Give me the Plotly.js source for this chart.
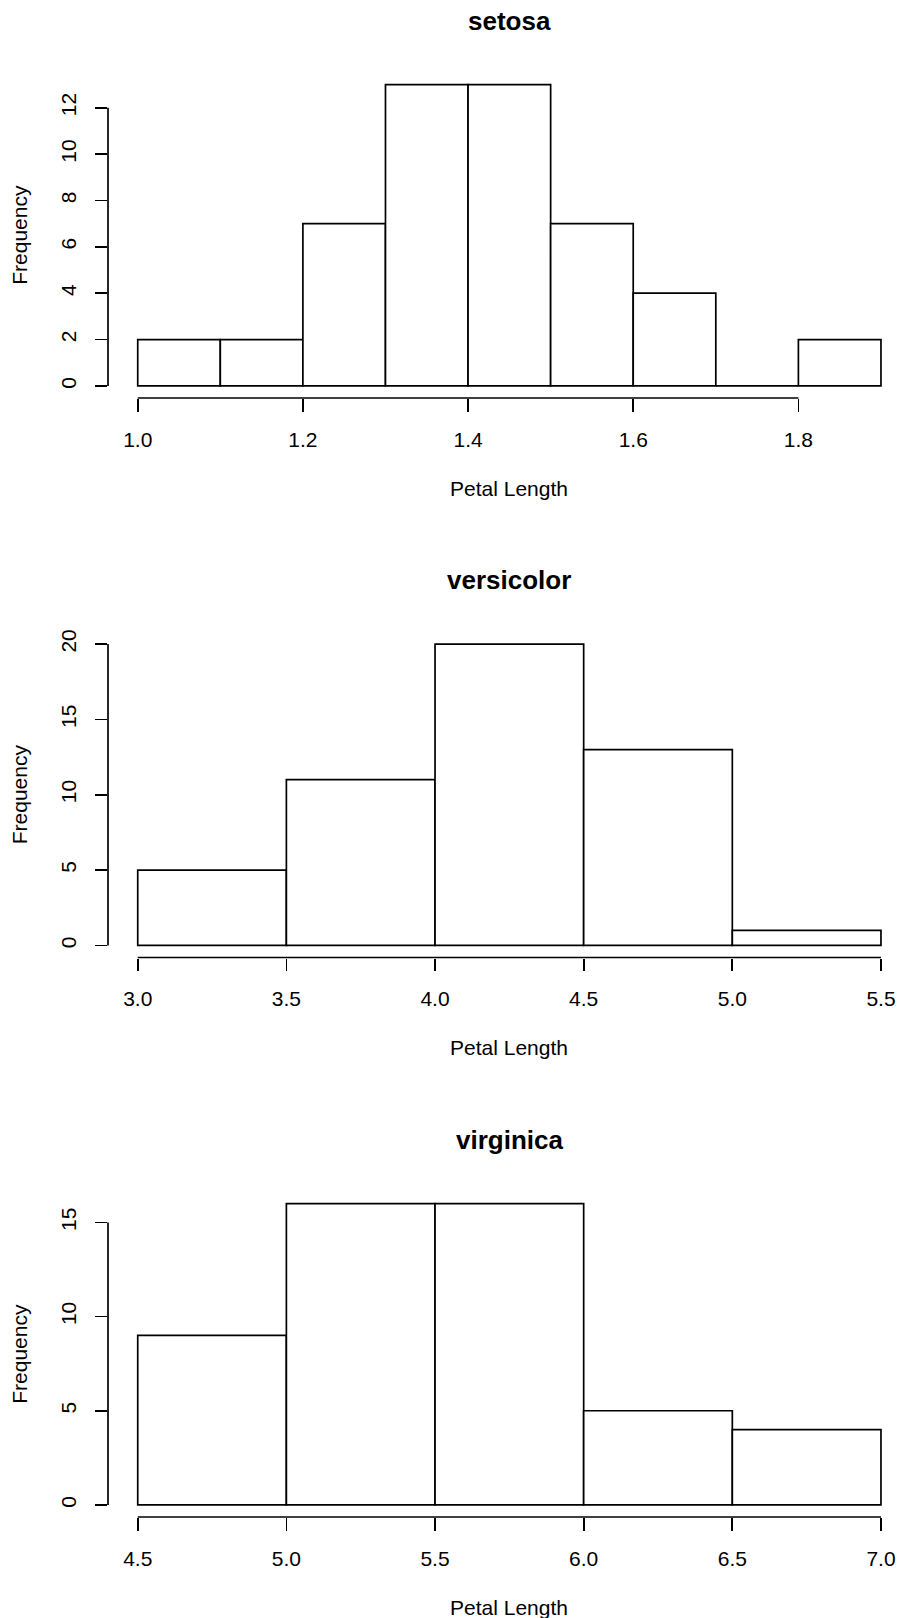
<!DOCTYPE html>
<html>
<head>
<meta charset="utf-8">
<script src="https://cdn.plot.ly/plotly-3.0.1.min.js"></script>
<style>html,body{margin:0;padding:0;background:#fff;}#chart{width:898px;height:1618px;}</style>
</head>
<body>
<div id="chart"></div>
<script>
// ---- data (iris petal length histograms) ----
const speciesNames = ["setosa", "versicolor", "virginica"];
const setosaBreaks = [1.0, 1.1, 1.2, 1.3, 1.4, 1.5, 1.6, 1.7, 1.8, 1.9];
const setosaCounts = [2, 2, 7, 13, 13, 7, 4, 0, 2];
const versicolorBreaks = [3.0, 3.5, 4.0, 4.5, 5.0, 5.5];
const versicolorCounts = [5, 11, 20, 13, 1];
const virginicaBreaks = [4.5, 5.0, 5.5, 6.0, 6.5, 7.0];
const virginicaCounts = [9, 16, 16, 5, 4];

const setosaXTicks = [1.0, 1.2, 1.4, 1.6, 1.8];
const setosaXTickText = ["1.0", "1.2", "1.4", "1.6", "1.8"];
const versicolorXTicks = [3.0, 3.5, 4.0, 4.5, 5.0, 5.5];
const versicolorXTickText = ["3.0", "3.5", "4.0", "4.5", "5.0", "5.5"];
const virginicaXTicks = [4.5, 5.0, 5.5, 6.0, 6.5, 7.0];
const virginicaXTickText = ["4.5", "5.0", "5.5", "6.0", "6.5", "7.0"];

const setosaYTicks = [0, 2, 4, 6, 8, 10, 12];
const versicolorYTicks = [0, 5, 10, 15, 20];
const virginicaYTicks = [0, 5, 10, 15];

const xLabel = "Petal Length";
const yLabel = "Frequency";

// ---- layout geometry ----
const W = 898, H = 1618;
const marginL = 108;
const plotRightR = 910.7;          // where R's plot region would end
const panelTops = [72.5, 632, 1191.5];
const panelH = 325.5;
const FONT = "Liberation Sans, Arial, Helvetica, sans-serif";
const LW = 1.7;

const panels = [
  {breaks: setosaBreaks, counts: setosaCounts, xt: setosaXTicks, xtt: setosaXTickText, yt: setosaYTicks},
  {breaks: versicolorBreaks, counts: versicolorCounts, xt: versicolorXTicks, xtt: versicolorXTickText, yt: versicolorYTicks},
  {breaks: virginicaBreaks, counts: virginicaCounts, xt: virginicaXTicks, xtt: virginicaXTickText, yt: virginicaYTicks}
];

const visFrac = (W - marginL) / (plotRightR - marginL);

const traces = [];
const layout = {
  width: W, height: H,
  margin: {l: marginL, r: 0, t: 0, b: 0, pad: 0},
  paper_bgcolor: "#fff", plot_bgcolor: "#fff",
  showlegend: false, bargap: 0,
  font: {family: FONT, size: 21, color: "#000"},
  shapes: [], annotations: []
};

panels.forEach((p, i) => {
  const n = i === 0 ? "" : String(i + 1);
  const xr = "x" + n, yr = "y" + n;
  const lo = p.breaks[0], hi = p.breaks[p.breaks.length - 1];
  const span = hi - lo;
  const Rlo = lo - 0.04 * span, Rhi = hi + 0.04 * span;
  const ymax = Math.max(...p.counts);
  const mids = [], widths = [];
  for (let k = 0; k < p.counts.length; k++) {
    mids.push((p.breaks[k] + p.breaks[k + 1]) / 2);
    widths.push(p.breaks[k + 1] - p.breaks[k]);
  }
  traces.push({
    type: "bar", x: mids, y: p.counts, width: widths,
    xaxis: xr, yaxis: yr,
    marker: {color: "#ffffff", line: {color: "#000", width: LW}},
    hoverinfo: "x+y"
  });
  const top = panelTops[i];
  const common = {
    showgrid: false, zeroline: false, showline: false,
    ticks: "outside", ticklen: 12.5, tickwidth: LW, tickcolor: "#000",
    tickfont: {family: FONT, size: 21, color: "#000"},
    tickmode: "array", fixedrange: true
  };
  layout["xaxis" + n] = Object.assign({}, common, {
    anchor: yr, domain: [0, 1],
    range: [Rlo, Rlo + (Rhi - Rlo) * visFrac],
    tickvals: p.xt, ticktext: p.xtt, ticklabelstandoff: 10
  });
  layout["yaxis" + n] = Object.assign({}, common, {
    anchor: xr,
    domain: [1 - (top + panelH) / H, 1 - top / H],
    range: [-0.04 * ymax, 1.04 * ymax],
    tickvals: p.yt, ticktext: p.yt.map(String), tickangle: -90, ticklabelstandoff: 10
  });
  // R-style axis lines spanning first to last tick
  layout.shapes.push({type: "line", xref: xr, yref: yr + " domain",
    x0: p.xt[0], x1: p.xt[p.xt.length - 1], y0: 0, y1: 0,
    line: {color: "#000", width: LW}});
  layout.shapes.push({type: "line", xref: xr + " domain", yref: yr,
    x0: 0, x1: 0, y0: p.yt[0], y1: p.yt[p.yt.length - 1],
    line: {color: "#000", width: LW}});
  const cx = (lo + hi) / 2;
  layout.annotations.push({text: "<b>" + speciesNames[i] + "</b>", xref: xr, yref: yr + " domain",
    x: cx, y: 1, yshift: 52, xanchor: "center", yanchor: "middle", showarrow: false,
    font: {family: FONT, size: 26, color: "#000"}});
  layout.annotations.push({text: xLabel, xref: xr, yref: yr + " domain",
    x: cx, y: 0, yshift: -90, xanchor: "center", yanchor: "middle", showarrow: false,
    font: {family: FONT, size: 21, color: "#000"}});
  layout.annotations.push({text: yLabel, xref: xr + " domain", yref: yr + " domain",
    x: 0, y: 0.5, xshift: -88.5, xanchor: "center", yanchor: "middle", textangle: -90, showarrow: false,
    font: {family: FONT, size: 21, color: "#000"}});
});

Plotly.newPlot("chart", traces, layout, {displayModeBar: false, staticPlot: true});
</script>
</body>
</html>
